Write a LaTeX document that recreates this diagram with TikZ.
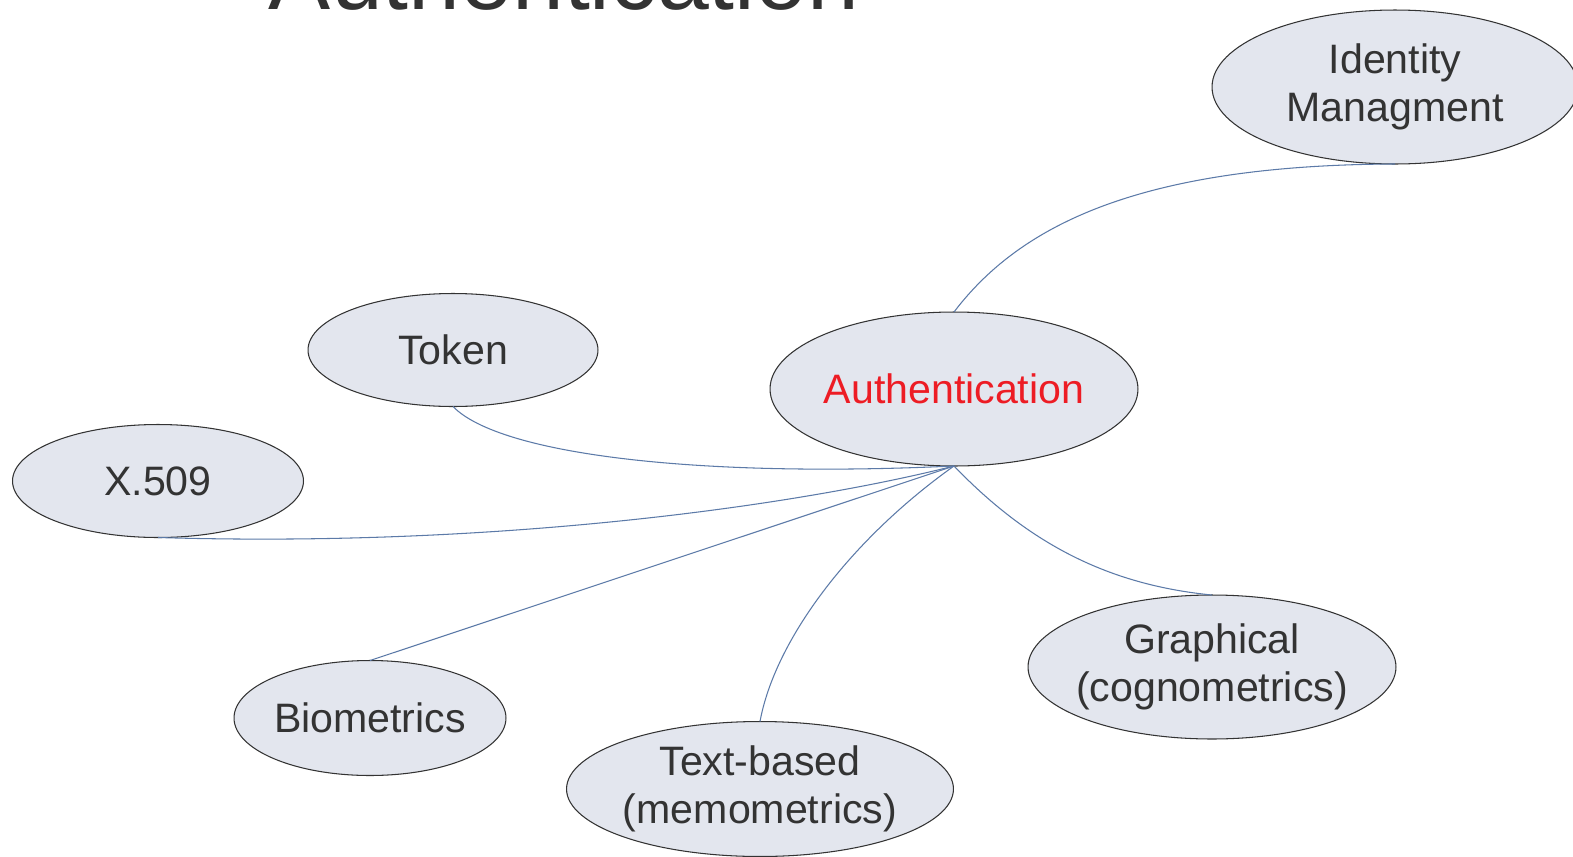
\documentclass[tikz,border=0pt]{standalone}
\usepackage{fontspec}
\setmainfont{Liberation Sans}
\usepackage{tikz}
\usetikzlibrary{shapes.geometric,positioning,calc}
\definecolor{bubble}{RGB}{227,230,238}
\definecolor{edge}{RGB}{92,122,168}
\definecolor{ink}{RGB}{51,51,51}
\definecolor{authred}{RGB}{237,28,36}

\begin{document}
\begin{tikzpicture}[x=0.02cm,y=-0.02cm,outer sep=0pt,inner sep=0pt]
      \tikzset{topic/.style={ellipse,draw=ink,line width=0.6pt,fill=bubble,align=center,text=ink,inner xsep=-12pt,font=\fontsize{23.4}{27.5}\selectfont}}
      \tikzset{link/.style={draw=edge,line width=0.6pt}}

      \clip (0,0) rectangle (1573,856);
      \fill[white] (0,0) rectangle (1573,856);

      % clipped slide title
      \node [anchor=base,text=ink,font=\fontsize{53}{60}\selectfont] (title) at (564,9) {Authentication};

      \node [topic,minimum width=7.36cm,minimum height=3.08cm,text=authred] (auth) at (954,389) {Authentication};
      \node [topic,minimum width=7.32cm,minimum height=3.08cm] (idm) at (1395,87) {Identity\\Managment};
      \node [topic,minimum width=5.8cm,minimum height=2.26cm] (token) at (453,350) {Token};
      \node [topic,minimum width=5.82cm,minimum height=2.26cm] (x509) at (158,481) {X.509};
      \node [topic,minimum width=5.44cm,minimum height=2.3cm] (bio) at (370,718) {Biometrics};
      \node [topic,minimum width=7.74cm,minimum height=2.7cm] (text) at (760,789) {Text-based\\(memometrics)};
      \node [topic,minimum width=7.36cm,minimum height=2.88cm] (graph) at (1212,667) {Graphical\\(cognometrics)};

      \draw [link] (auth.north) .. controls (1020,225) and (1140,165) .. (idm.south);
      \draw [link] (auth.south) .. controls (700,478) and (500,455) .. (token.south);
      \draw [link] (auth.south) .. controls (800,505) and (500,548) .. (x509.south);
      \draw [link] (auth.south) -- (bio.north);
      \draw [link] (auth.south) .. controls (850,540) and (775,640) .. (text.north);
      \draw [link] (auth.south) .. controls (1030,545) and (1110,585) .. (graph.north);
\end{tikzpicture}
\end{document}
